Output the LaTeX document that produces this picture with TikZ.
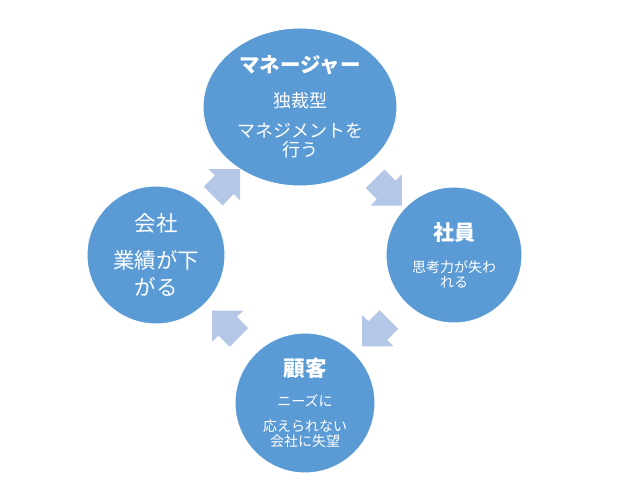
\documentclass[tikz,border=0pt]{standalone}
\usepackage{fontspec}
\setmainfont{Noto Sans CJK JP}
\usetikzlibrary{shapes.geometric,shapes.arrows}
\definecolor{cycleblue}{HTML}{5B9BD5}
\definecolor{arrowblue}{HTML}{B4C7E7}

\begin{document}
\begin{tikzpicture}[x=1pt,y=1pt,
	bubble/.style={circle,fill=cycleblue,draw=white,line width=1pt,text=white,align=center,inner sep=0pt},
	cyc/.style={single arrow,fill=arrowblue,draw=none,minimum height=38pt,inner xsep=0pt,inner ysep=13pt,
		single arrow head extend=9pt,single arrow tip angle=90}]
\useasboundingbox (0,0) rectangle (624,494);
\node [bubble,ellipse,minimum width=194pt,minimum height=158pt,font=\fontsize{18}{19}\selectfont] (mgr) at (300,387)
	{{\fontsize{20.5}{20}\selectfont\bfseries マネージャー}\\[16pt]独裁型\\[11pt]マネジメントを\\行う};
\node [bubble,minimum size=136pt,font=\fontsize{14}{15}\selectfont] (emp) at (454,239)
	{{\fontsize{21}{21}\selectfont\bfseries 社員}\\[17pt]思考力が失わ\\れる};
\node [bubble,minimum size=140pt,font=\fontsize{14}{15}\selectfont] (cust) at (305,91)
	{{\fontsize{21.5}{21}\selectfont\bfseries 顧客}\\[15pt]ニーズに\\[10pt]応えられない\\会社に失望};
\node [bubble,minimum size=138pt,font=\fontsize{21.5}{27}\selectfont] (comp) at (156,239)
	{会社\\[10pt]業績が下\\がる};
%arrows between the bubbles
\path (mgr) -- (emp) node [midway,cyc,rotate=-45] (a1) {};
\path (emp) -- (cust) node [midway,cyc,rotate=-135] (a2) {};
\path (cust) -- (comp) node [midway,cyc,rotate=135] (a3) {};
\path (comp) -- (mgr) node [midway,cyc,rotate=45] (a4) {};
\end{tikzpicture}
\end{document}
